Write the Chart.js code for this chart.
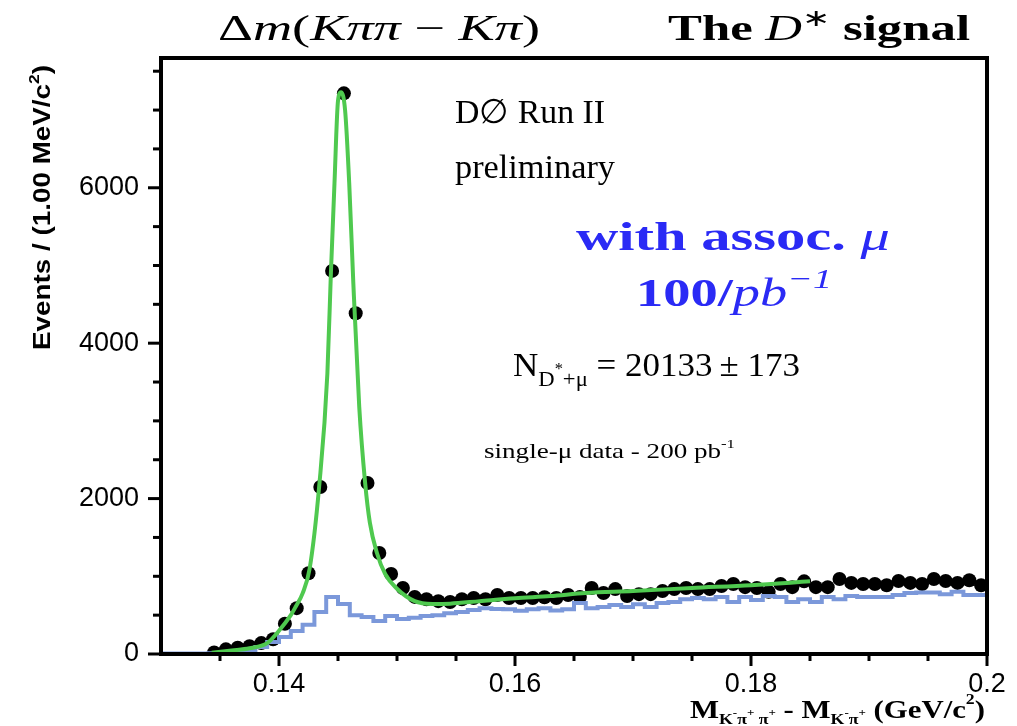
<!DOCTYPE html>
<html lang="en">
<head>
<meta charset="UTF-8" />
<title>D* signal</title>
<script src="https://cdn.jsdelivr.net/npm/chart.js"></script>
<style>
  body { margin: 0; background: #fff; }
  .wrap { width: 1017px; height: 726px; position: relative; }
</style>
</head>
<body>
<div class="wrap"><canvas id="chart"></canvas></div>
<script>
// data points, 1 MeV bins, first bin centre at 0.1345 GeV
const firstCentre = 0.1345;
const binWidth = 0.001;
const counts = [
  20, 60, 80, 100, 140, 190, 390, 590, 1040, 2150,
  4930, 7215, 4385, 2200, 1300, 1030, 850, 735, 705, 680,
  670, 705, 720, 705, 760, 720, 720, 720, 730, 720,
  760, 735, 850, 785, 835, 745, 770, 770, 810, 835,
  850, 835, 835, 875, 900, 860, 850, 800, 900, 860,
  935, 860, 860, 965, 915, 900, 900, 885, 940, 915,
  900, 965, 940, 915, 950, 885
];

// background histogram, bins starting at 0.130
const histStart = 0.130;
const histValues = [
  5, 5, 5, 5, 5, 10, 10, 15, 40, 90,
  155, 220, 295, 375, 540, 735, 645, 500, 475, 425,
  490, 450, 465, 490, 500, 525, 540, 565, 590, 580,
  575, 555, 575, 590, 560, 575, 655, 590, 605, 630,
  605, 640, 605, 655, 670, 705, 720, 705, 735, 670,
  735, 695, 745, 735, 670, 705, 670, 735, 705, 745,
  735, 735, 735, 760, 785, 790, 790, 770, 800, 760
];

// fitted curve
const fitX = [0.1343, 0.1360, 0.1375, 0.1390, 0.1400, 0.1410, 0.1414, 0.1420, 0.1426, 0.1434,
  0.1441, 0.1444, 0.1447, 0.1450, 0.14525, 0.1456, 0.14595, 0.1463, 0.1468,
  0.1473, 0.1477, 0.1483, 0.1490, 0.1500, 0.1515, 0.1530, 0.1545, 0.1570, 0.1600,
  0.1630, 0.1660, 0.1700, 0.1750, 0.1800, 0.1850];
const fitY = [15, 45, 75, 140, 300, 500, 605, 780, 1100, 2150,
  3610, 4910, 6050, 7120, 7230, 7000, 6060, 4770, 3180,
  2200, 1690, 1300, 1030, 840, 680, 645, 648, 680, 718,
  746, 785, 810, 850, 885, 935];

const xMajor = [0.14, 0.16, 0.18, 0.2];
const xMajorLabels = ["0.14", "0.16", "0.18", "0.2"];
const yMajor = [0, 2000, 4000, 6000];
const yMajorLabels = ["0", "2000", "4000", "6000"];

const xMin = 0.13, xMax = 0.2, yMin = 0, yMax = 7670;

const pointData = counts.map((c, i) => ({ x: firstCentre + i * binWidth, y: c }));
const histData = histValues.map((v, i) => ({ x: histStart + i * binWidth, y: v }));
histData.push({ x: histStart + histValues.length * binWidth, y: histValues[histValues.length - 1] });
const fitData = fitX.map((x, i) => ({ x: x, y: fitY[i] }));

const SERIF = "'Liberation Serif', 'Times New Roman', serif";
const SANS = "'Liberation Sans', Arial, sans-serif";

function drawRich(ctx, runs, x, y, width) {
  let total = 0;
  runs.forEach(r => { ctx.font = r.f; r.w = ctx.measureText(r.t).width; total += r.w; });
  const sx = width ? width / total : 1;
  ctx.save();
  ctx.translate(x, y);
  ctx.scale(sx, 1);
  let cx = 0;
  runs.forEach(r => { ctx.font = r.f; ctx.fillText(r.t, cx, r.dy || 0); cx += r.w; });
  ctx.restore();
}

const decor = {
  id: "decor",
  afterDatasetsDraw(chart) {
    const ctx = chart.ctx;
    const a = chart.chartArea;
    const xs = chart.scales.x, ys = chart.scales.y;
    ctx.save();
    ctx.strokeStyle = "#000";
    ctx.fillStyle = "#000";

    // frame
    ctx.lineWidth = 4;
    ctx.strokeRect(a.left, a.top, a.right - a.left, a.bottom - a.top);

    // y ticks
    ctx.lineWidth = 3;
    for (let v = 500; v < yMax; v += 500) {
      const py = ys.getPixelForValue(v);
      const len = yMajor.includes(v) ? 13 : 8;
      ctx.beginPath(); ctx.moveTo(a.left - len, py); ctx.lineTo(a.left, py); ctx.stroke();
    }
    ctx.beginPath(); ctx.moveTo(a.left - 13, a.bottom); ctx.lineTo(a.left, a.bottom); ctx.stroke();

    // x ticks
    for (let i = 1; i <= 14; i++) {
      const v = xMin + i * 0.005;
      const px = xs.getPixelForValue(v);
      const major = xMajor.some(m => Math.abs(m - v) < 1e-6);
      const len = major ? 12 : 7;
      ctx.beginPath(); ctx.moveTo(px, a.bottom); ctx.lineTo(px, a.bottom + len); ctx.stroke();
    }

    // tick labels
    ctx.font = "27px " + SANS;
    ctx.textAlign = "right";
    ctx.textBaseline = "middle";
    yMajor.forEach((v, i) => ctx.fillText(yMajorLabels[i], a.left - 22, ys.getPixelForValue(v)));
    ctx.textAlign = "center";
    ctx.textBaseline = "alphabetic";
    xMajor.forEach((v, i) => ctx.fillText(xMajorLabels[i], xs.getPixelForValue(v), 692));

    ctx.textAlign = "left";
    // y title
    ctx.save();
    ctx.translate(50, 350);
    ctx.rotate(-Math.PI / 2);
    drawRich(ctx, [
      { t: "Events / (1.00 MeV/c", f: "bold 24px " + SANS },
      { t: "2", f: "bold 15px " + SANS, dy: -11 },
      { t: ")", f: "bold 24px " + SANS }
    ], 0, 0, 285);
    ctx.restore();

    // x title
    const b26 = "bold 26px " + SERIF, b15 = "bold 15px " + SERIF, b11 = "bold 11px " + SERIF;
    drawRich(ctx, [
      { t: "M", f: b26 },
      { t: "K", f: b15, dy: 6 }, { t: "-", f: b11, dy: -2 },
      { t: "\u03c0", f: b15, dy: 6 }, { t: "+", f: b11, dy: -2 },
      { t: " \u03c0", f: b15, dy: 6 }, { t: "+", f: b11, dy: -2 },
      { t: " - M", f: b26 },
      { t: "K", f: b15, dy: 6 }, { t: "-", f: b11, dy: -2 },
      { t: "\u03c0", f: b15, dy: 6 }, { t: "+", f: b11, dy: -2 },
      { t: " (GeV/c", f: b26 },
      { t: "2", f: b15, dy: -14 },
      { t: ")", f: b26 }
    ], 690, 718, 295);

    // header
    const r36 = "36px " + SERIF, i36 = "italic 36px " + SERIF;
    drawRich(ctx, [
      { t: "\u0394", f: r36 }, { t: "m", f: i36 }, { t: "(", f: r36 },
      { t: "K\u03c0\u03c0", f: i36 }, { t: " \u2212 ", f: r36 },
      { t: "K\u03c0", f: i36 }, { t: ")", f: r36 }
    ], 218, 40, 322);
    drawRich(ctx, [
      { t: "The ", f: "bold 36px " + SERIF }, { t: "D", f: i36 },
      { t: "\u2217", f: "24px " + SERIF, dy: -14 },
      { t: " signal", f: "bold 36px " + SERIF }
    ], 668, 40, 302);

    // annotations
    drawRich(ctx, [{ t: "D\u2205 Run II", f: "34px " + SERIF }], 455, 123, 150);
    drawRich(ctx, [{ t: "preliminary", f: "34px " + SERIF }], 455, 178, 160);

    ctx.fillStyle = "#2a2af5";
    drawRich(ctx, [
      { t: "with assoc. ", f: "bold 40px " + SERIF },
      { t: "\u03bc", f: "italic 40px " + SERIF }
    ], 576, 250, 314);
    drawRich(ctx, [
      { t: "100/", f: "bold 40px " + SERIF },
      { t: "pb", f: "italic 40px " + SERIF },
      { t: "\u22121", f: "italic 28px " + SERIF, dy: -18 }
    ], 636, 306, 196);

    ctx.fillStyle = "#000";
    drawRich(ctx, [
      { t: "N", f: "34px " + SERIF },
      { t: "D", f: "22px " + SERIF, dy: 10 },
      { t: "*", f: "16px " + SERIF, dy: -2 },
      { t: "+\u03bc", f: "22px " + SERIF, dy: 10 },
      { t: " = 20133\u2009\u00b1 173", f: "34px " + SERIF }
    ], 513, 376, 287);
    drawRich(ctx, [
      { t: "single-\u03bc data - 200 pb", f: "21px " + SERIF },
      { t: "-1", f: "13px " + SERIF, dy: -10 }
    ], 484, 458, 251);

    ctx.restore();
  }
};

new Chart(document.getElementById("chart"), {
  type: "scatter",
  data: {
    datasets: [
      {
        label: "fit",
        data: fitData,
        showLine: true,
        borderColor: "#4fc94f",
        borderWidth: 4,
        pointRadius: 0,
        cubicInterpolationMode: "monotone",
        order: 0
      },
      {
        label: "background",
        data: histData,
        showLine: true,
        stepped: "after",
        borderColor: "#7b98da",
        borderWidth: 4,
        pointRadius: 0,
        order: 1
      },
      {
        label: "data",
        data: pointData,
        backgroundColor: "#000",
        borderWidth: 0,
        pointRadius: 7,
        order: 2
      }
    ]
  },
  options: {
    responsive: true,
    maintainAspectRatio: false,
    animation: false,
    layout: { padding: { left: 161, top: 58, right: 30, bottom: 72 } },
    scales: {
      x: { type: "linear", min: xMin, max: xMax, display: false },
      y: { type: "linear", min: yMin, max: yMax, display: false }
    },
    plugins: { legend: { display: false }, tooltip: { enabled: false } }
  },
  plugins: [decor]
});
</script>
</body>
</html>
